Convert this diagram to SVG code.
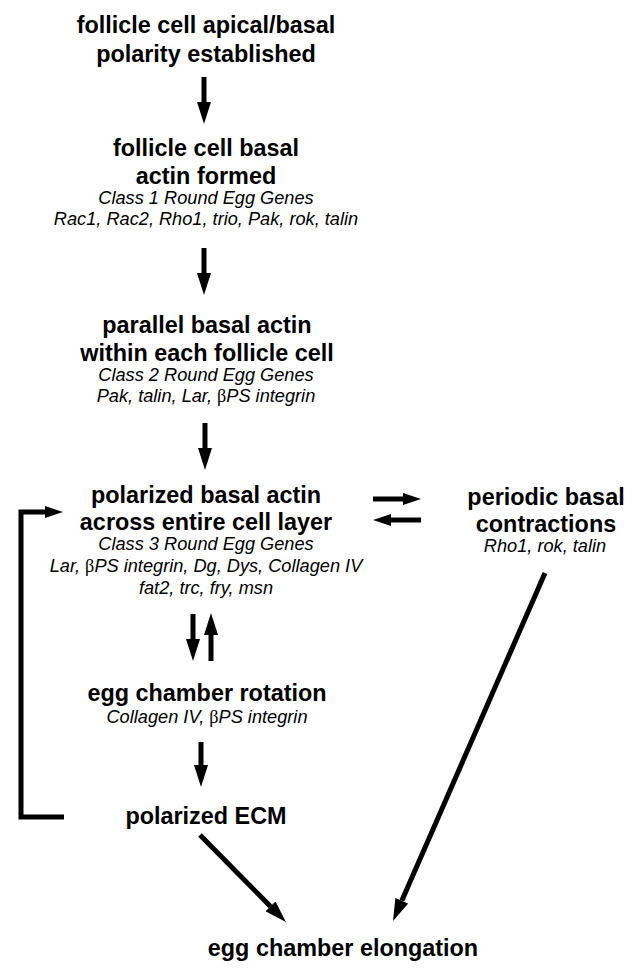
<svg xmlns="http://www.w3.org/2000/svg" width="640" height="978" viewBox="0 0 640 978">
<style>
.h{font-family:"Liberation Sans",Arial,Helvetica,sans-serif;font-weight:bold;font-size:23.4px;fill:#000;text-anchor:middle}
.i{font-family:"Liberation Sans",Arial,Helvetica,sans-serif;font-style:italic;font-size:18.2px;fill:#000;text-anchor:middle}
.b{font-family:"Liberation Serif","Times New Roman",serif;font-style:normal}
.c{stroke:#000;stroke-width:5;fill:none}
</style>
<defs>
<marker id="ah" markerUnits="userSpaceOnUse" markerWidth="22" markerHeight="14" refX="0" refY="7" orient="auto"><path d="M0,0 L22,7 L0,14 z" fill="#000"/></marker>
<marker id="as" markerUnits="userSpaceOnUse" markerWidth="18" markerHeight="12" refX="0" refY="6" orient="auto"><path d="M0,0 L18,6 L0,12 z" fill="#000"/></marker>
</defs>
<rect width="640" height="978" fill="#fff"/>
<g id="connectors">
<line class="c" x1="204" y1="77" x2="204" y2="102" marker-end="url(#ah)"/>
<line class="c" x1="204" y1="248" x2="204" y2="273" marker-end="url(#ah)"/>
<line class="c" x1="205" y1="423" x2="205" y2="448" marker-end="url(#ah)"/>
<line class="c" x1="373" y1="499" x2="403" y2="499" marker-end="url(#as)"/>
<line class="c" x1="421" y1="520" x2="391" y2="520" marker-end="url(#as)"/>
<line class="c" x1="193" y1="614" x2="193" y2="639" marker-end="url(#ah)"/>
<line class="c" x1="211" y1="661" x2="211" y2="635" marker-end="url(#ah)"/>
<line class="c" x1="201" y1="742" x2="201" y2="765" marker-end="url(#ah)"/>
<path class="c" d="M64,817 H21 V512 H45" marker-end="url(#as)"/>
<line class="c" x1="200" y1="835" x2="270.5" y2="906.4" marker-end="url(#ah)"/>
<line class="c" x1="545" y1="573" x2="401.8" y2="900.8" marker-end="url(#ah)"/>
</g>
<g id="n1"><text class="h" x="206" y="33">follicle cell apical/basal</text><text class="h" x="206" y="62">polarity established</text></g>
<g id="n2"><text class="h" x="206" y="156">follicle cell basal</text><text class="h" x="206" y="184">actin formed</text><text class="i" x="206" y="204">Class 1 Round Egg Genes</text><text class="i" x="206" y="225">Rac1, Rac2, Rho1, trio, Pak, rok, talin</text></g>
<g id="n3"><text class="h" x="207" y="333">parallel basal actin</text><text class="h" x="207" y="361">within each follicle cell</text><text class="i" x="206" y="381">Class 2 Round Egg Genes</text><text class="i" x="206" y="402">Pak, talin, Lar, <tspan class="b">β</tspan>PS integrin</text></g>
<g id="n4"><text class="h" x="206" y="503">polarized basal actin</text><text class="h" x="206" y="530">across entire cell layer</text><text class="i" x="206" y="550">Class 3 Round Egg Genes</text><text class="i" x="206" y="572">Lar, <tspan class="b">β</tspan>PS integrin, Dg, Dys, Collagen IV</text><text class="i" x="206" y="594">fat2, trc, fry, msn</text></g>
<g id="n5"><text class="h" x="546" y="505">periodic basal</text><text class="h" x="546" y="532">contractions</text><text class="i" x="545" y="552">Rho1, rok, talin</text></g>
<g id="n6"><text class="h" x="207" y="701">egg chamber rotation</text><text class="i" x="207" y="723">Collagen IV, <tspan class="b">β</tspan>PS integrin</text></g>
<g id="n7"><text class="h" x="206" y="824">polarized ECM</text></g>
<g id="n8"><text class="h" x="343" y="956">egg chamber elongation</text></g>
</svg>
